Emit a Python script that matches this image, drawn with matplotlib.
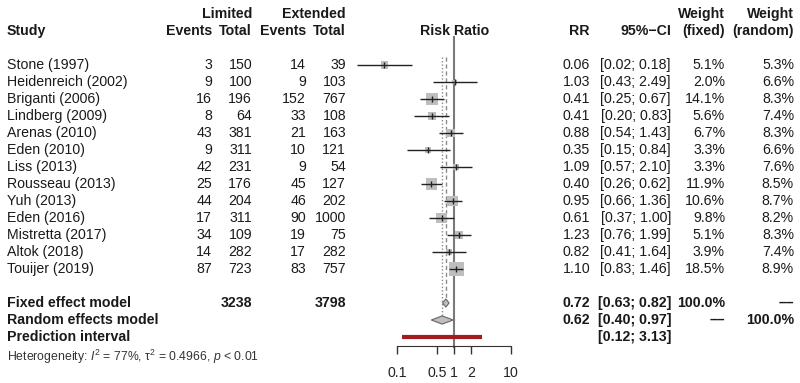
import numpy as np
import matplotlib
matplotlib.use("Agg")
from matplotlib import pyplot as plt
from matplotlib.transforms import blended_transform_factory

plt.rcParams['font.family'] = ['Liberation Sans', 'DejaVu Sans']
plt.rcParams['mathtext.fontset'] = 'custom'
plt.rcParams['mathtext.rm'] = 'Liberation Sans'
plt.rcParams['mathtext.it'] = 'Liberation Sans:italic'

# data
studies = ["Stone (1997)", "Heidenreich (2002)", "Briganti (2006)", "Lindberg (2009)",
           "Arenas (2010)", "Eden (2010)", "Liss (2013)", "Rousseau (2013)", "Yuh (2013)",
           "Eden (2016)", "Mistretta (2017)", "Altok (2018)", "Touijer (2019)"]
lim_events = [3, 9, 16, 8, 43, 9, 42, 25, 44, 17, 34, 14, 87]
lim_total = [150, 100, 196, 64, 381, 311, 231, 176, 204, 311, 109, 282, 723]
ext_events = [14, 9, 152, 33, 21, 10, 9, 45, 46, 90, 19, 17, 83]
ext_total = [39, 103, 767, 108, 163, 121, 54, 127, 202, 1000, 75, 282, 757]
rr = [0.06, 1.03, 0.41, 0.41, 0.88, 0.35, 1.09, 0.40, 0.95, 0.61, 1.23, 0.82, 1.10]
ci_low = [0.02, 0.43, 0.25, 0.20, 0.54, 0.15, 0.57, 0.26, 0.66, 0.37, 0.76, 0.41, 0.83]
ci_high = [0.18, 2.49, 0.67, 0.83, 1.43, 0.84, 2.10, 0.62, 1.36, 1.00, 1.99, 1.64, 1.46]
w_fixed = [5.1, 2.0, 14.1, 5.6, 6.7, 3.3, 3.3, 11.9, 10.6, 9.8, 5.1, 3.9, 18.5]
w_random = [5.3, 6.6, 8.3, 7.4, 8.3, 6.6, 7.6, 8.5, 8.7, 8.2, 8.3, 7.4, 8.9]

total_lim = 3238
total_ext = 3798
fixed = (0.72, 0.63, 0.82)
random_ = (0.62, 0.40, 0.97)
pred = (0.12, 3.13)
ticks = [0.1, 0.5, 1, 2, 10]
tick_labels = ["0.1", "0.5", "1", "2", "10"]
NA = "\u2013\u2013"

FS = 10.2
fig = plt.figure(figsize=(8, 3.83), dpi=100)
# forest panel: 57 px per decade, 1.0 at x=454 px
ax = fig.add_axes([340 / 800, 1 - 346 / 383, 180 / 800, 346 / 383])
ax.set_xscale('log')
ax.set_xlim(0.01, 10 ** (180 / 57 - 2))
ax.set_ylim((346 - 65) / 17, -65 / 17)

rows = np.arange(len(studies))
r_fix, r_ran, r_pred, r_het = 14, 15, 16, 17.15

# reference lines
ax.plot([1, 1], [-1.65, 16.6], color='#7a7a7a', lw=1.5, zorder=1, clip_on=False)
ax.plot([fixed[0]] * 2, [-0.5, r_fix - 0.25], color='#8a8a8a', lw=1, ls=(0, (3, 2)), zorder=1)
ax.plot([random_[0]] * 2, [-0.5, r_ran - 0.25], color='#8a8a8a', lw=1, ls=(0, (1, 1.5)), zorder=1)

# study squares + CIs
side = 14.5 * np.sqrt(np.array(w_fixed) / max(w_fixed)) * 0.72
ax.scatter(rr, rows, marker='s', s=side ** 2, color='#bebebe', lw=0, zorder=2)
ax.hlines(rows, ci_low, ci_high, color='#222222', lw=1, zorder=3)
ax.plot(rr, rows, ls='none', marker='|', ms=4, mew=1, color='#222222', zorder=4)

# diamonds
h = 0.24
for est, lo, hi, r in [(fixed[0], fixed[1], fixed[2], r_fix), (random_[0], random_[1], random_[2], r_ran)]:
    ax.fill([lo, est, hi, est], [r, r - h, r, r + h], facecolor='#bebebe', edgecolor='#666666', lw=0.8, zorder=3)

# prediction interval
ax.plot(pred, [r_pred, r_pred], color='#a31b1f', lw=3, solid_capstyle='butt', zorder=3)

for s in ['top', 'left', 'right']:
    ax.spines[s].set_visible(False)
ax.spines['bottom'].set_bounds(0.1, 10)
ax.spines['bottom'].set_color('#333333')
ax.set_xticks(ticks)
ax.set_xticklabels(tick_labels, fontsize=FS, color='#222222')
ax.minorticks_off()
ax.tick_params(axis='x', length=6, width=1, color='#333333', pad=8.5)
ax.set_yticks([])
ax.patch.set_visible(False)

tr = blended_transform_factory(fig.transFigure, ax.transData)


def put(xpx, row, s, ha='right', bold=False, size=FS, color='#1a1a1a'):
    fig.text(xpx / 800, row, s, ha=ha, va='center', transform=tr, fontsize=size,
             fontweight='bold' if bold else 'normal', color=color)


# headers
put(252, -3, "Limited", bold=True)
put(346, -3, "Extended", bold=True)
put(725, -3, "Weight", bold=True)
put(794, -3, "Weight", bold=True)
put(7, -2, "Study", ha='left', bold=True)
put(212, -2, "Events", bold=True)
put(252, -2, "Total", bold=True)
put(306, -2, "Events", bold=True)
put(346, -2, "Total", bold=True)
put(455, -2, "Risk Ratio", ha='center', bold=True)
put(590, -2, "RR", bold=True)
put(671, -2, "95%\u2212CI", bold=True)
put(725, -2, "(fixed)", bold=True)
put(794, -2, "(random)", bold=True)

for i, name in enumerate(studies):
    put(7, i, name, ha='left')
    put(212, i, str(lim_events[i]))
    put(252, i, str(lim_total[i]))
    put(306, i, str(ext_events[i]))
    put(346, i, str(ext_total[i]))
    put(590, i, f"{rr[i]:.2f}")
    put(671, i, f"[{ci_low[i]:.2f}; {ci_high[i]:.2f}]")
    put(725, i, f"{w_fixed[i]:.1f}%")
    put(794, i, f"{w_random[i]:.1f}%")

put(7, r_fix, "Fixed effect model", ha='left', bold=True)
put(252, r_fix, str(total_lim), bold=True)
put(346, r_fix, str(total_ext), bold=True)
put(590, r_fix, f"{fixed[0]:.2f}", bold=True)
put(671, r_fix, f"[{fixed[1]:.2f}; {fixed[2]:.2f}]", bold=True)
put(725, r_fix, "100.0%", bold=True)
put(794, r_fix, NA, bold=True)

put(7, r_ran, "Random effects model", ha='left', bold=True)
put(590, r_ran, f"{random_[0]:.2f}", bold=True)
put(671, r_ran, f"[{random_[1]:.2f}; {random_[2]:.2f}]", bold=True)
put(725, r_ran, NA, bold=True)
put(794, r_ran, "100.0%", bold=True)

put(7, r_pred, "Prediction interval", ha='left', bold=True)
put(671, r_pred, f"[{pred[0]:.2f}; {pred[1]:.2f}]", bold=True)

put(7, r_het, "Heterogeneity: $I^2$ = 77%, \u03c4$^2$ = 0.4966, $p$ < 0.01", ha='left', size=8.8,
    color='#333333')

fig.savefig("out.png", dpi=100)
